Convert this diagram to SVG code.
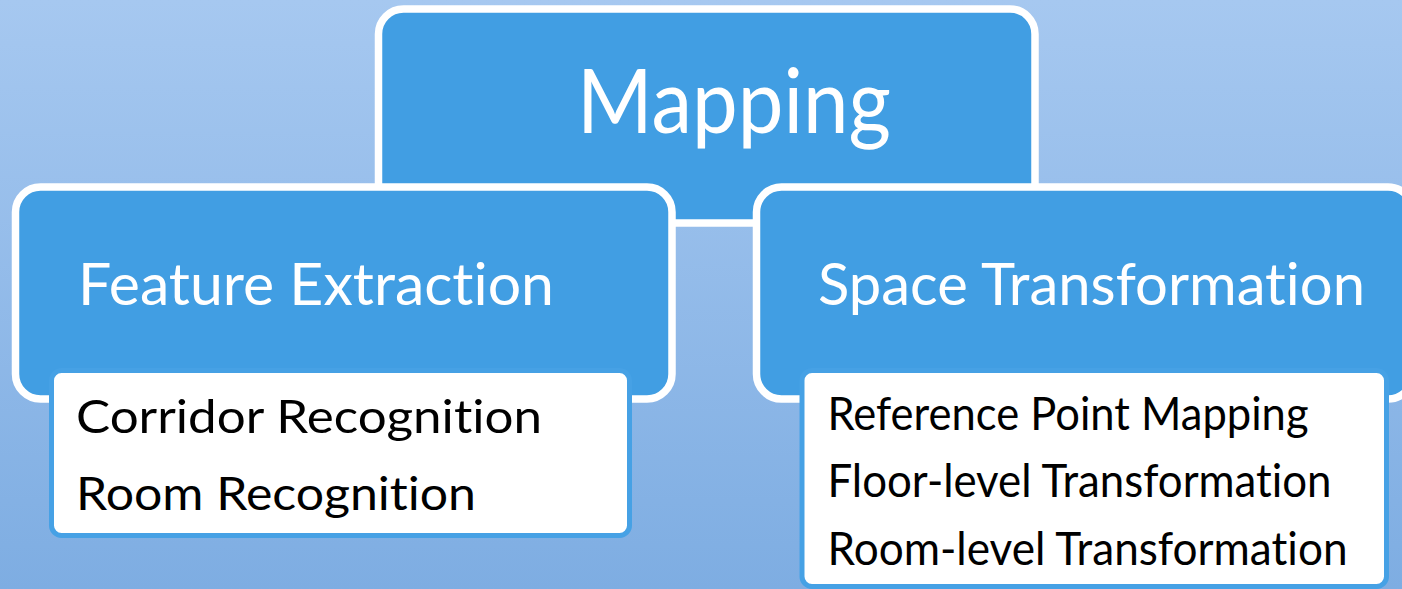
<svg xmlns="http://www.w3.org/2000/svg" width="1402" height="589" viewBox="0 0 1402 589">
  <defs>
    <linearGradient id="bg" x1="0" y1="0" x2="0" y2="1">
      <stop offset="0" stop-color="#a6c8f0"/>
      <stop offset="1" stop-color="#7eade2"/>
    </linearGradient>
  </defs>
  <style>
    .box { fill: #419ee3; stroke: #ffffff; stroke-width: 7.5; }
    .sub { fill: #ffffff; stroke: #46a1e5; stroke-width: 5; }
    .t { font-family: Lato, "Open Sans", "DejaVu Sans", sans-serif; font-variant-ligatures: none; font-feature-settings: "liga" 0, "clig" 0; }
    .head { fill: #ffffff; }
    .item { fill: #000000; font-size: 46px; }
  </style>
  <rect x="0" y="0" width="1402" height="589" fill="url(#bg)"/>
  <g id="connectors"></g>
  <g id="node-mapping">
    <rect class="box" x="378.5" y="9" width="656.5" height="214" rx="25" ry="25"/>
    <text class="t head" x="577" y="133" font-size="90" textLength="314" lengthAdjust="spacingAndGlyphs">Mapping</text>
  </g>
  <g id="node-feature-extraction">
    <rect class="box" x="15.5" y="187" width="656.5" height="212" rx="25" ry="25"/>
    <text class="t head" x="78" y="305" font-size="58" textLength="476" lengthAdjust="spacingAndGlyphs">Feature Extraction</text>
  </g>
  <g id="node-space-transformation">
    <rect class="box" x="756.5" y="187" width="656.5" height="212" rx="25" ry="25"/>
    <text class="t head" x="818" y="305" font-size="58" textLength="547" lengthAdjust="spacingAndGlyphs">Space Transformation</text>
  </g>
  <g id="node-feature-items">
    <rect class="sub" x="51.5" y="370.5" width="578" height="165" rx="10" ry="10"/>
    <text class="t item" x="76" y="432.5" textLength="466" lengthAdjust="spacingAndGlyphs">Corridor Recognition</text>
    <text class="t item" x="76" y="510" textLength="400" lengthAdjust="spacingAndGlyphs">Room Recognition</text>
  </g>
  <g id="node-space-items">
    <rect class="sub" x="802" y="370.5" width="584.5" height="216" rx="10" ry="10"/>
    <text class="t item" x="827.5" y="430" textLength="481" lengthAdjust="spacingAndGlyphs">Reference Point Mapping</text>
    <text class="t item" x="827.5" y="497" textLength="504" lengthAdjust="spacingAndGlyphs">Floor-level Transformation</text>
    <text class="t item" x="827.5" y="565" textLength="520" lengthAdjust="spacingAndGlyphs">Room-level Transformation</text>
  </g>
</svg>
